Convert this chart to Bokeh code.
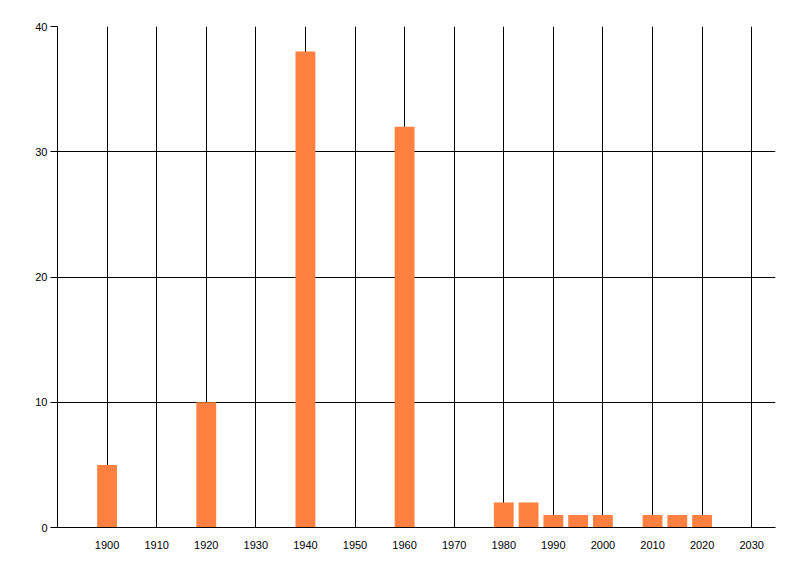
from bokeh.plotting import figure
from bokeh.models import FixedTicker, Range1d
from bokeh.embed import file_html
from bokeh.resources import INLINE

years = [1900, 1920, 1940, 1960, 1980, 1985, 1990, 1995, 2000, 2010, 2015, 2020]
counts = [5, 10, 38, 32, 2, 2, 1, 1, 1, 1, 1, 1]
x_ticks = list(range(1900, 2031, 10))
y_ticks = [0, 10, 20, 30, 40]

p = figure(width=792, height=568, output_backend="svg", toolbar_location=None,
           x_range=Range1d(1890, 2034.8), y_range=Range1d(0, 40),
           min_border_left=57, min_border_right=17, min_border_top=26, min_border_bottom=41)
p.outline_line_color = None

p.vbar(x=years, top=counts, width=4, fill_color="#FF8040", line_color=None)

p.xaxis.ticker = FixedTicker(ticks=x_ticks)
p.yaxis.ticker = FixedTicker(ticks=y_ticks)
for ax in (p.xaxis, p.yaxis):
    ax.axis_line_color = "black"
    ax.major_label_text_font = "Liberation Sans"
    ax.major_label_text_font_size = "11px"
    ax.major_label_text_color = "black"
    ax.minor_tick_line_color = None
    ax.major_tick_in = 0
p.xaxis.major_tick_line_color = None
p.xaxis.major_label_standoff = 7
p.yaxis.major_tick_out = 7
p.yaxis.major_tick_line_color = "black"
p.yaxis.major_label_standoff = 3

p.xgrid.grid_line_color = "black"
p.ygrid.grid_line_color = "black"
p.xgrid.ticker = FixedTicker(ticks=x_ticks)
p.ygrid.ticker = FixedTicker(ticks=y_ticks)
p.grid.grid_line_alpha = 1

open("out.html", "w").write(file_html(p, INLINE))
